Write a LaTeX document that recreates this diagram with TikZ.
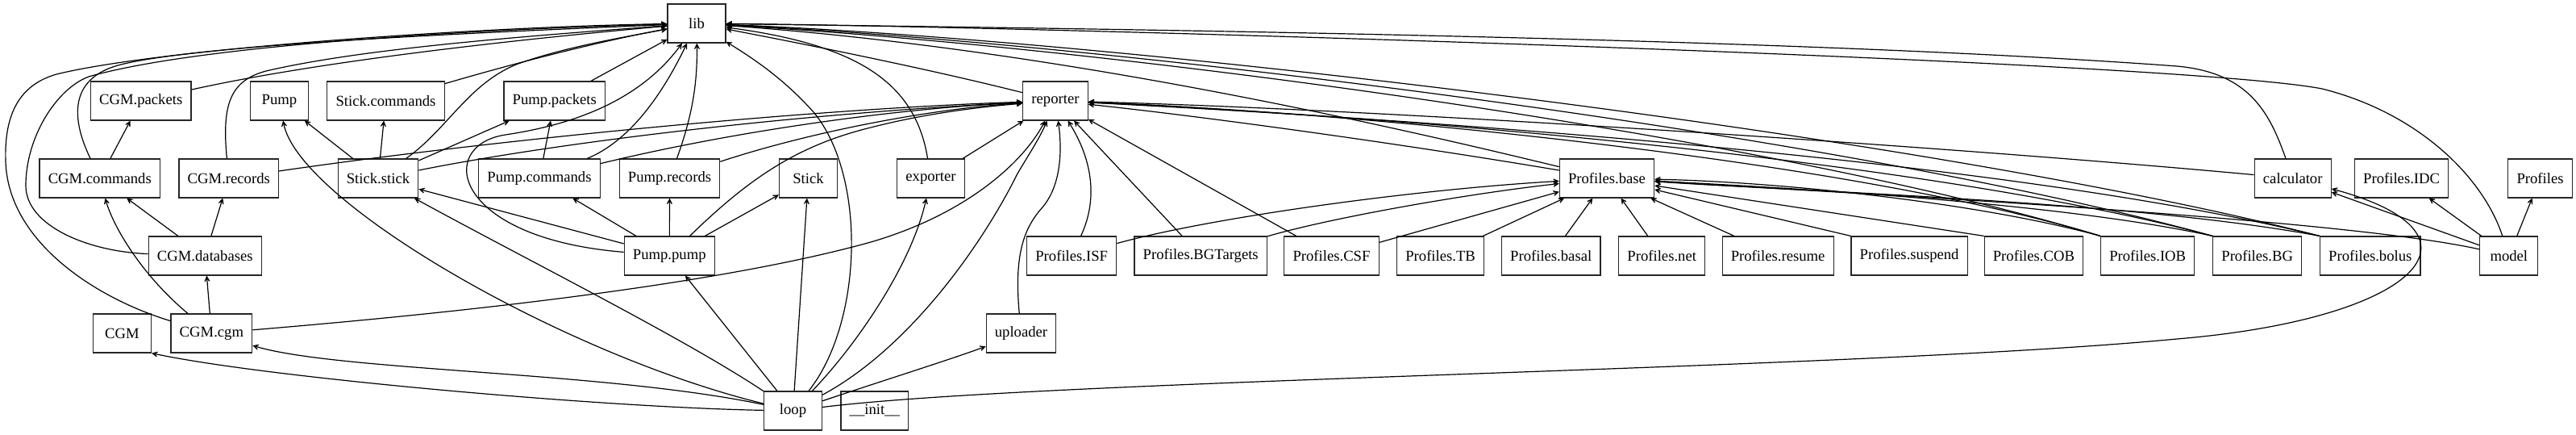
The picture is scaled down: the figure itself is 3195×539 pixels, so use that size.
\documentclass[tikz,border=0pt]{standalone}
\usepackage{fontspec}
\setmainfont{Liberation Serif}
\usetikzlibrary{arrows.meta}
\tikzstyle{mod}=[draw=black!85, line width=0.9pt, rectangle, minimum width=54pt,
		minimum height=36pt, inner xsep=8pt, inner ysep=0pt,
		font=\fontsize{14pt}{16pt}\selectfont]
\tikzstyle{dep}=[line width=0.9pt, -{Stealth[length=8.5pt,width=8.5pt,inset=5.5pt]}]

\begin{document}
\begin{tikzpicture}[x=0.75pt, y=-0.75pt]
        \useasboundingbox (0,0) rectangle (3195,539);
        % modules, row by row
        \node[mod] (lib) at (864,29) {lib};

        \node[mod] (cgmpkt) at (174.7,125) {CGM.packets};
        \node[mod] (pump) at (346.5,125) {Pump};
        \node[mod] (stickcmd) at (478.5,125) {Stick.commands};
        \node[mod] (pumppkt) at (687.8,125) {Pump.packets};
        \node[mod] (reporter) at (1309,125) {reporter};

        \node[mod] (cgmcmd) at (123.8,221) {CGM.commands};
        \node[mod] (cgmrec) at (283.8,221) {CGM.records};
        \node[mod] (stickstick) at (469,221) {Stick.stick};
        \node[mod] (pumpcmd) at (669,221) {Pump.commands};
        \node[mod] (pumprec) at (830.5,221) {Pump.records};
        \node[mod] (stick) at (1002.5,221) {Stick};
        \node[mod] (exporter) at (1154.5,221) {exporter};
        \node[mod] (pbase) at (1993,221) {Profiles.base};
        \node[mod] (calc) at (2843.7,221) {calculator};
        \node[mod] (pidc) at (2978.6,221) {Profiles.IDC};
        \node[mod] (profiles) at (3150.5,221) {Profiles};

        \node[mod] (cgmdb) at (254.3,317) {CGM.databases};
        \node[mod] (pumppump) at (830.3,317) {Pump.pump};
        \node[mod] (pisf) at (1329.2,317) {Profiles.ISF};
        \node[mod] (pbgt) at (1489.2,317) {Profiles.BGTargets};
        \node[mod] (pcsf) at (1651.5,317) {Profiles.CSF};
        \node[mod] (ptb) at (1786.6,317) {Profiles.TB};
        \node[mod] (pbasal) at (1923.7,317) {Profiles.basal};
        \node[mod] (pnet) at (2061.2,317) {Profiles.net};
        \node[mod] (presume) at (2205.1,317) {Profiles.resume};
        \node[mod] (psuspend) at (2368.1,317) {Profiles.suspend};
        \node[mod] (pcob) at (2522.4,317) {Profiles.COB};
        \node[mod] (piob) at (2663.7,317) {Profiles.IOB};
        \node[mod] (pbg) at (2799.7,317) {Profiles.BG};
        \node[mod] (pbolus) at (2939.8,317) {Profiles.bolus};
        \node[mod] (model) at (3111.8,317) {model};

        \node[mod] (cgm) at (151.5,413) {CGM};
        \node[mod] (cgmcgm) at (262.4,413) {CGM.cgm};
        \node[mod] (uploader) at (1266.5,413) {uploader};

        \node[mod] (loop) at (983.5,509) {loop};
        \node[mod] (init) at (1084.8,509) {\_\_init\_\_};

        % CGM
        \draw[dep] (cgmcmd) -- (cgmpkt);
        \draw[dep] (cgmdb) -- (cgmcmd);
        \draw[dep] (cgmdb) -- (cgmrec);
        \draw[dep] (cgmcgm) -- (cgmdb);
        \draw[dep] (cgmcgm) .. controls (175,340) and (140,280) .. (cgmcmd);
        \draw[dep] (cgmcmd) .. controls (85,140) and (90,95) .. (150,80) .. controls (250,55) and (600,40) .. (lib);
        \draw[dep] (cgmrec) .. controls (275,130) and (285,100) .. (330,88) .. controls (450,60) and (650,45) .. (lib);
        \draw[dep] (cgmdb) .. controls (110,312) and (32,280) .. (32,230) .. controls (32,170) and (70,110) .. (110,95) .. controls (250,55) and (600,36) .. (lib);
        \draw[dep] (cgmcgm) .. controls (120,370) and (10,300) .. (7,200) .. controls (5,140) and (25,105) .. (70,92) .. controls (200,60) and (600,33) .. (lib);
        \draw[dep] (cgmpkt) .. controls (400,75) and (650,48) .. (lib);
        \draw[dep] (cgmrec) .. controls (600,175) and (1000,135) .. (reporter);
        \draw[dep] (cgmcgm) .. controls (600,385) and (900,350) .. (1080,300) .. controls (1200,265) and (1270,200) .. (reporter);

        % Stick and Pump
        \draw[dep] (stickcmd) .. controls (650,75) and (750,50) .. (lib);
        \draw[dep] (pumppkt) -- (lib);
        \draw[dep] (stickstick) -- (pump);
        \draw[dep] (stickstick) -- (stickcmd);
        \draw[dep] (stickstick) -- (pumppkt);
        \draw[dep] (stickstick) .. controls (555,160) and (580,105) .. (640,80) .. controls (700,58) and (780,45) .. (lib);
        \draw[dep] (stickstick) .. controls (700,175) and (1000,140) .. (reporter);
        \draw[dep] (pumpcmd) -- (pumppkt);
        \draw[dep] (pumpcmd) .. controls (780,175) and (820,120) .. (lib);
        \draw[dep] (pumpcmd) .. controls (900,165) and (1100,135) .. (reporter);
        \draw[dep] (pumprec) .. controls (860,140) and (865,100) .. (lib);
        \draw[dep] (pumprec) .. controls (1000,165) and (1150,135) .. (reporter);
        \draw[dep] (pumppump) -- (pumpcmd);
        \draw[dep] (pumppump) -- (pumprec);
        \draw[dep] (pumppump) -- (stick);
        \draw[dep] (pumppump) -- (stickstick);
        \draw[dep] (pumppump) .. controls (930,220) and (990,180) .. (1080,158) .. controls (1150,140) and (1220,132) .. (reporter);
        \draw[dep] (pumppump) .. controls (560,295) and (540,180) .. (627,167) .. controls (700,156) and (790,130) .. (lib);

        % loop
        \draw[dep] (loop) .. controls (750,505) and (330,468) .. (cgm.south east);
        \draw[dep] (loop) .. controls (750,460) and (420,460) .. (cgmcgm);
        \draw[dep] (loop) .. controls (700,440) and (370,250) .. (pump);
        \draw[dep] (loop) .. controls (850,420) and (650,320) .. (stickstick);
        \draw[dep] (loop) -- (pumppump);
        \draw[dep] (loop) -- (stick);
        \draw[dep] (loop) .. controls (1070,400) and (1075,220) .. (1010,140) .. controls (970,95) and (930,70) .. (lib);
        \draw[dep] (loop) .. controls (1060,430) and (1130,330) .. (exporter);
        \draw[dep] (loop) .. controls (1130,430) and (1220,300) .. (1262,215) .. controls (1280,185) and (1290,170) .. (reporter);
        \draw[dep] (loop) .. controls (1100,470) and (1180,445) .. (uploader);
        \draw[dep] (loop) .. controls (1300,470) and (2300,458) .. (2700,420) .. controls (3000,395) and (3100,290) .. (calc);

        % reporter, exporter, uploader
        \draw[dep] (reporter) .. controls (1150,85) and (1000,55) .. (lib);
        \draw[dep] (exporter) .. controls (1135,100) and (1060,55) .. (lib);
        \draw[dep] (exporter) -- (reporter);
        \draw[dep] (uploader) .. controls (1258,320) and (1268,285) .. (1292,258) .. controls (1315,232) and (1318,190) .. (reporter);

        % Profiles
        \draw[dep] (pisf) .. controls (1365,240) and (1350,190) .. (reporter);
        \draw[dep] (pbgt) -- (reporter);
        \draw[dep] (pcsf) -- (reporter);
        \draw[dep] (pisf) .. controls (1500,270) and (1750,235) .. (pbase);
        \draw[dep] (pbgt) .. controls (1650,270) and (1820,240) .. (pbase);
        \draw[dep] (pcsf) -- (pbase);
        \draw[dep] (ptb) -- (pbase);
        \draw[dep] (pbasal) -- (pbase);
        \draw[dep] (pnet) -- (pbase);
        \draw[dep] (presume) -- (pbase);
        \draw[dep] (psuspend.north west) -- (pbase);
        \draw[dep] (pcob.north west) -- (pbase);
        \draw[dep] (piob.north west) .. controls (2450,250) and (2200,225) .. (pbase);
        \draw[dep] (pbg.north west) .. controls (2550,250) and (2200,232) .. (pbase);
        \draw[dep] (pbolus.north west) .. controls (2650,250) and (2250,238) .. (pbase);
        \draw[dep] (piob.north west) .. controls (2300,200) and (1700,140) .. (reporter);
        \draw[dep] (pbg.north west) .. controls (2400,200) and (1750,145) .. (reporter);
        \draw[dep] (pbolus.north west) .. controls (2500,200) and (1800,150) .. (reporter);
        \draw[dep] (piob.north west) .. controls (2200,170) and (1400,60) .. (lib);
        \draw[dep] (pbg.north west) .. controls (2300,170) and (1400,55) .. (lib);
        \draw[dep] (pbolus.north west) .. controls (2400,170) and (1400,50) .. (lib);
        \draw[dep] (pbase) .. controls (1750,180) and (1500,145) .. (reporter);
        \draw[dep] (pbase) .. controls (1700,150) and (1300,60) .. (lib);

        % calculator, model
        \draw[dep] (calc) .. controls (2400,180) and (1700,135) .. (reporter);
        \draw[dep] (calc) .. controls (2815,140) and (2790,90) .. (2700,82) .. controls (2200,45) and (1300,35) .. (lib);
        \draw[dep] (model) .. controls (3080,220) and (3000,140) .. (2880,110) .. controls (2700,75) and (1300,33) .. (lib);
        \draw[dep] (model) -- (calc);
        \draw[dep] (model) -- (pidc);
        \draw[dep] (model) -- (profiles);
        \draw[dep] (model) .. controls (2900,270) and (2300,240) .. (pbase);
    \end{tikzpicture}
\end{document}
